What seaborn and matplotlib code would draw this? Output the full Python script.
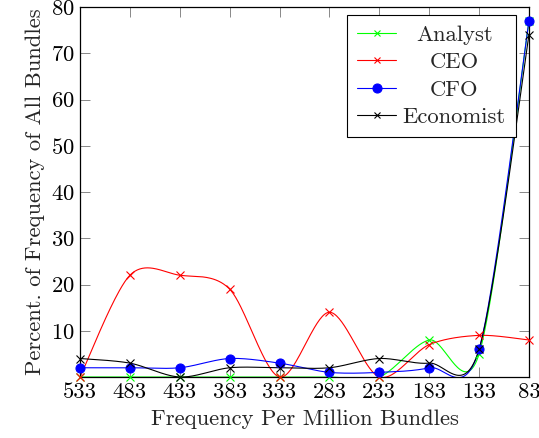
import numpy as np
import pandas as pd
import matplotlib
matplotlib.use("Agg")
import matplotlib.pyplot as plt
from matplotlib.lines import Line2D
import seaborn as sns

categories = ["533", "483", "433", "383", "333", "283", "233", "183", "133", "83"]
analyst = [0, 0, 0, 0, 0, 0, 0, 8, 5, 77]
ceo = [0, 22, 22, 19, 0, 14, 0, 7, 9, 8]
cfo = [2, 2, 2, 4, 3, 1, 1, 2, 6, 77]
economist = [4, 3, 0, 2, 2, 2, 4, 3, 6, 74]
yticks = [10, 20, 30, 40, 50, 60, 70, 80]

series = [
    ("Analyst", analyst, (0, 1, 0), "x", 5.5),
    ("CEO", ceo, (1, 0, 0), "x", 5.5),
    ("CFO", cfo, (0, 0, 1), "o", 6.5),
    ("Economist", economist, (0, 0, 0), "x", 5.5),
]

sns.set_theme(style="ticks")
plt.rcParams["font.family"] = ["cmr10", "DejaVu Serif"]
plt.rcParams["mathtext.fontset"] = "cm"
plt.rcParams["axes.formatter.use_mathtext"] = True
FS = 16.3


def smooth(xs, ys, tension=0.1526, n=40):
    pts = np.column_stack([xs, ys]).astype(float)
    m = len(pts)
    out = []
    for i in range(m - 1):
        p0 = pts[i]
        p3 = pts[i + 1]
        pm = pts[i - 1] if i > 0 else pts[i]
        pn = pts[i + 2] if i + 2 < m else pts[i + 1]
        c1 = p0 + tension * (p3 - pm)
        c2 = p3 - tension * (pn - p0)
        t = np.linspace(0, 1, n)[:, None]
        seg = ((1 - t) ** 3) * p0 + 3 * ((1 - t) ** 2) * t * c1 + 3 * (1 - t) * t ** 2 * c2 + t ** 3 * p3
        if i > 0:
            seg = seg[1:]
        out.append(seg)
    return np.vstack(out)


fig = plt.figure(figsize=(5.39, 4.38), dpi=100)
ax = fig.add_axes([80 / 539, 1 - 377 / 438, (529 - 80) / 539, (377 - 7) / 438])

xpos = np.arange(len(categories))
handles = []
for name, vals, col, mk, ms in series:
    curve = smooth(xpos, vals)
    df = pd.DataFrame({"x": curve[:, 0], "y": curve[:, 1]})
    sns.lineplot(data=df, x="x", y="y", sort=False, estimator=None, color=col, lw=0.8, ax=ax)
    ax.plot(xpos, vals, linestyle="none", marker=mk, color=col, markersize=ms,
            markeredgewidth=0.8, clip_on=False, zorder=3)
    handles.append(Line2D([], [], color=col, lw=0.8, marker=mk, markersize=ms if mk == "o" else 4.5,
                          markeredgewidth=0.8, label=name))

ax.set_xlim(0, 9)
ax.set_ylim(0, 80)
ax.set_xticks(xpos)
ax.set_xticklabels(categories)
ax.set_yticks(yticks)
ax.tick_params(axis="both", direction="in", length=7, width=0.7, color="#888888",
               labelsize=FS, top=True, right=True, pad=4, labelcolor="black")
for s in ax.spines.values():
    s.set_linewidth(0.9)
    s.set_color("black")
ax.set_xlabel("Frequency Per Million Bundles", fontsize=FS, labelpad=5)
ax.set_ylabel("Percent. of Frequency of All Bundles", fontsize=FS, labelpad=4)

leg = ax.legend(handles=handles, loc="upper right",
                bbox_to_anchor=((516 - 80) / 449, (377 - 15) / 370),
                fontsize=FS, frameon=True, fancybox=False,
                edgecolor="black", framealpha=1, borderaxespad=0, handlelength=1.7,
                handletextpad=0.3, labelspacing=0.33, borderpad=0.45)
leg.get_frame().set_linewidth(0.8)
fig.canvas.draw()
renderer = fig.canvas.get_renderer()
widths = [t.get_window_extent(renderer).width for t in leg.get_texts()]
wmax = max(widths)
for t, w in zip(leg.get_texts(), widths):
    t.set_position(((wmax - w) / 2, 0))

fig.savefig("out.png", dpi=100)
